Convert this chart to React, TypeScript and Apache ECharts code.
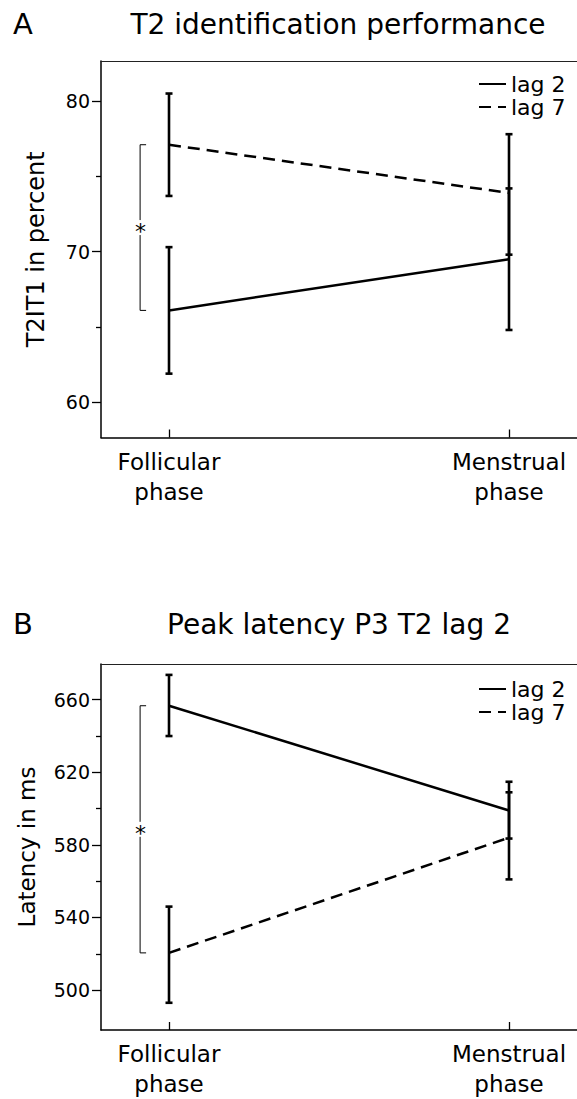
import React, { useEffect, useRef } from "react";
import * as echarts from "echarts";

const FONT = "DejaVu Sans";

// Categories and positions on the x axis
const CATEGORIES = ["Follicular\nphase", "Menstrual\nphase"];
const X_POS = [0, 1];
const LAGS = ["lag 2", "lag 7"];

// Panel A: T2 identification performance (T2|T1 in percent)
const A_LAG2_MEAN = [66.1, 69.5];
const A_LAG2_LOW = [61.9, 64.8];
const A_LAG2_HIGH = [70.3, 74.2];
const A_LAG7_MEAN = [77.1, 73.9];
const A_LAG7_LOW = [73.7, 69.8];
const A_LAG7_HIGH = [80.5, 77.8];
const A_TICKS = [60, 70, 80];
const A_MINOR = [65, 75];
const A_MIN = 57.66;
const A_MAX = 82.66;

// Panel B: Peak latency P3 T2 lag 2 (ms)
const B_LAG2_MEAN = [656.7, 599];
const B_LAG2_LOW = [640, 583.5];
const B_LAG2_HIGH = [673.7, 614.8];
const B_LAG7_MEAN = [520.5, 584];
const B_LAG7_LOW = [493, 561];
const B_LAG7_HIGH = [546, 609];
const B_TICKS = [500, 540, 580, 620, 660];
const B_MINOR = [520, 560, 600, 640];
const B_MIN = 478;
const B_MAX = 679.7;

const X_MIN = -0.2;
const X_MAX = 1.2;
const BRACKET_X = -0.085;

const BLACK = "#000";

function errorBarItem(params: any, api: any) {
  const x = api.value(0);
  const lo = api.value(1);
  const hi = api.value(2);
  const p1 = api.coord([x, hi]);
  const p2 = api.coord([x, lo]);
  const cw = 3.5;
  const st = { stroke: BLACK, lineWidth: 2.6 };
  return {
    type: "group",
    children: [
      { type: "line", shape: { x1: p1[0], y1: p1[1], x2: p2[0], y2: p2[1] }, style: st },
      { type: "line", shape: { x1: p1[0] - cw, y1: p1[1], x2: p1[0] + cw, y2: p1[1] }, style: st },
      { type: "line", shape: { x1: p2[0] - cw, y1: p2[1], x2: p2[0] + cw, y2: p2[1] }, style: st },
    ],
  };
}

function bracketItem(params: any, api: any) {
  const x = api.value(0);
  const lo = api.value(1);
  const hi = api.value(2);
  const p1 = api.coord([x, hi]);
  const p2 = api.coord([x, lo]);
  const mid = (p1[1] + p2[1]) / 2;
  const gap = 7.5;
  const cap = 6;
  const st = { stroke: BLACK, lineWidth: 1 };
  return {
    type: "group",
    children: [
      { type: "line", shape: { x1: p1[0], y1: p1[1], x2: p1[0], y2: mid - gap }, style: st },
      { type: "line", shape: { x1: p1[0], y1: mid + gap, x2: p2[0], y2: p2[1] }, style: st },
      { type: "line", shape: { x1: p1[0], y1: p1[1], x2: p1[0] + cap, y2: p1[1] }, style: st },
      { type: "line", shape: { x1: p2[0], y1: p2[1], x2: p2[0] + cap, y2: p2[1] }, style: st },
      {
        type: "text",
        x: p1[0] + 0.5,
        y: mid + 4,
        style: {
          text: "*",
          fill: BLACK,
          font: `22px '${FONT}'`,
          align: "center",
          verticalAlign: "middle",
        },
      },
    ],
  };
}

function zip(xs: number[], a: number[]) {
  return xs.map((x, i) => [x, a[i]]);
}
function zip3(xs: number[], a: number[], b: number[]) {
  return xs.map((x, i) => [x, a[i], b[i]]);
}

function xAxes(gridIndex: number) {
  return [
    {
      gridIndex,
      type: "value",
      position: "bottom",
      min: X_MIN,
      max: X_MAX,
      axisLine: { show: true, onZero: false, lineStyle: { color: BLACK, width: 1.5 } },
      axisTick: {
        show: true,
        customValues: X_POS,
        inside: true,
        length: 8,
        lineStyle: { color: BLACK, width: 1.3 },
      },
      axisLabel: {
        customValues: X_POS,
        formatter: (v: number) => CATEGORIES[Math.round(v)] ?? "",
        fontFamily: FONT,
        fontSize: 23,
        lineHeight: 30,
        color: BLACK,
        margin: 9,
      },
      splitLine: { show: false },
    },
    {
      gridIndex,
      type: "value",
      position: "top",
      min: X_MIN,
      max: X_MAX,
      axisLine: { show: true, onZero: false, lineStyle: { color: "#222", width: 1.2 } },
      axisTick: { show: false },
      axisLabel: { show: false },
      splitLine: { show: false },
    },
  ];
}

function yAxes(gridIndex: number, min: number, max: number, ticks: number[], minor: number[], name: string, nameGap: number, nameSize: number) {
  return [
    {
      gridIndex,
      type: "value",
      position: "left",
      min,
      max,
      name,
      nameLocation: "middle",
      nameGap,
      nameTextStyle: { fontFamily: FONT, fontSize: nameSize, color: BLACK },
      axisLine: { show: true, onZero: false, lineStyle: { color: BLACK, width: 1.5 } },
      axisTick: { show: true, customValues: ticks, length: 9, lineStyle: { color: BLACK, width: 1.3 } },
      axisLabel: { customValues: ticks, fontFamily: FONT, fontSize: 19, color: BLACK, margin: 11 },
      splitLine: { show: false },
    },
    {
      gridIndex,
      type: "value",
      position: "left",
      min,
      max,
      axisLine: { show: false, onZero: false },
      axisTick: { show: true, customValues: minor, length: 5, lineStyle: { color: BLACK, width: 1.3 } },
      axisLabel: { show: false },
      splitLine: { show: false },
    },
  ];
}

function panelSeries(xi: number, yi: number, l2: number[][], l7: number[][], e2: number[][], e7: number[][], br: number[][]) {
  return [
    {
      name: LAGS[0],
      type: "line",
      xAxisIndex: xi,
      yAxisIndex: yi,
      data: l2,
      symbol: "none",
      lineStyle: { color: BLACK, width: 2.5, type: "solid" },
      itemStyle: { color: BLACK },
    },
    {
      name: LAGS[1],
      type: "line",
      xAxisIndex: xi,
      yAxisIndex: yi,
      data: l7,
      symbol: "none",
      lineStyle: { color: BLACK, width: 2.5, type: [12, 7] },
      itemStyle: { color: BLACK },
    },
    {
      name: "err " + LAGS[0],
      type: "custom",
      xAxisIndex: xi,
      yAxisIndex: yi,
      data: e2,
      renderItem: errorBarItem,
    },
    {
      name: "err " + LAGS[1],
      type: "custom",
      xAxisIndex: xi,
      yAxisIndex: yi,
      data: e7,
      renderItem: errorBarItem,
    },
    {
      name: "bracket",
      type: "custom",
      xAxisIndex: xi,
      yAxisIndex: yi,
      data: br,
      renderItem: bracketItem,
    },
  ];
}

function legend(top: number) {
  return {
    data: LAGS,
    orient: "vertical",
    left: 478,
    top,
    padding: 0,
    itemWidth: 27,
    itemHeight: 14,
    itemGap: 1,
    selectedMode: false,
    itemStyle: { opacity: 0, color: "rgba(0,0,0,0)", borderWidth: 0, borderColor: "rgba(0,0,0,0)" },
    textStyle: { fontFamily: FONT, fontSize: 22, lineHeight: 22, color: BLACK },
  };
}

export default function App() {
  const ref = useRef<HTMLDivElement>(null);
  useEffect(() => {
    if (!ref.current) return;
    const chart = echarts.init(ref.current, null, { renderer: "svg" });
    const option: any = {
      animation: false,
      backgroundColor: "#fff",
      textStyle: { fontFamily: FONT },
      grid: [
        { left: 101, top: 61, right: 0, height: 376.5 },
        { left: 101, top: 664, right: 0, height: 369 },
      ],
      xAxis: [...xAxes(0), ...xAxes(1)],
      yAxis: [
        ...yAxes(0, A_MIN, A_MAX, A_TICKS, A_MINOR, "T2IT1 in percent", 53, 24),
        ...yAxes(1, B_MIN, B_MAX, B_TICKS, B_MINOR, "Latency in ms", 63, 23),
      ],
      legend: [legend(73), legend(678)],
      series: [
        ...panelSeries(
          0,
          0,
          zip(X_POS, A_LAG2_MEAN),
          zip(X_POS, A_LAG7_MEAN),
          zip3(X_POS, A_LAG2_LOW, A_LAG2_HIGH),
          zip3(X_POS, A_LAG7_LOW, A_LAG7_HIGH),
          [[BRACKET_X, A_LAG2_MEAN[0], A_LAG7_MEAN[0]]]
        ),
        ...panelSeries(
          2,
          2,
          zip(X_POS, B_LAG2_MEAN),
          zip(X_POS, B_LAG7_MEAN),
          zip3(X_POS, B_LAG2_LOW, B_LAG2_HIGH),
          zip3(X_POS, B_LAG7_LOW, B_LAG7_HIGH),
          [[BRACKET_X, B_LAG7_MEAN[0], B_LAG2_MEAN[0]]]
        ),
      ],
      graphic: [
        { type: "text", x: 13, y: 24, style: { text: "A", font: `29px '${FONT}'`, fill: BLACK, verticalAlign: "middle" } },
        { type: "text", x: 338, y: 24, style: { text: "T2 identification performance", font: `28px '${FONT}'`, fill: BLACK, align: "center", verticalAlign: "middle" } },
        { type: "text", x: 13, y: 624, style: { text: "B", font: `29px '${FONT}'`, fill: BLACK, verticalAlign: "middle" } },
        { type: "text", x: 339, y: 624, style: { text: "Peak latency P3 T2 lag 2", font: `28px '${FONT}'`, fill: BLACK, align: "center", verticalAlign: "middle" } },
      ],
    };
    chart.setOption(option);
    return () => chart.dispose();
  }, []);
  return <div ref={ref} style={{ position: "absolute", left: 0, top: 0, width: 577, height: 1099, background: "#fff" }} />;
}
